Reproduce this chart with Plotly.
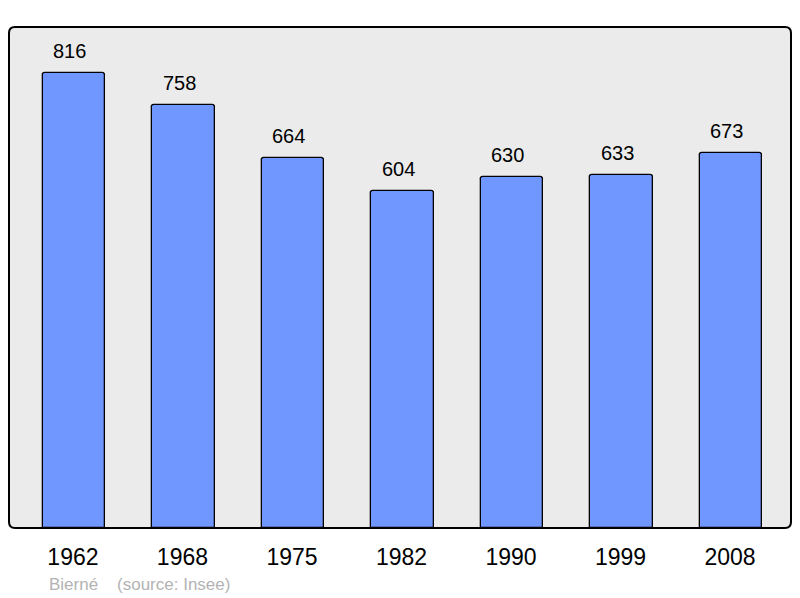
import plotly.graph_objects as go

years = ["1962", "1968", "1975", "1982", "1990", "1999", "2008"]
population = [816, 758, 664, 604, 630, 633, 673]
source_text = "Bierné    (source: Insee)"

xpos = list(range(len(years)))

# The page body has an 8px margin; the figure is laid out in its own pixels.
FW, FH = 792, 590
PL, PR, PT, PB = 1, 783, 19, 520  # plot area in figure pixels

fig = go.Figure()
fig.add_trace(go.Bar(
    x=xpos, y=population, width=0.57,
    marker=dict(color="#7096FF", line=dict(color="#000000", width=1.3), cornerradius=3),
    hoverinfo="skip",
))

for xi, v in zip(xpos, population):
    fig.add_annotation(x=xi, y=v, text=str(v), showarrow=False, yanchor="bottom",
                       yshift=9, xshift=-4, font=dict(size=20, color="#000000"))

def to_paper(xp, yp):
    return ((xp - PL) / (PR - PL), (PB - yp) / (PB - PT))

sx, sy = to_paper(39, 576)
fig.add_annotation(xref="paper", yref="paper", x=sx, y=sy,
                   xanchor="left", yanchor="middle", showarrow=False,
                   text=source_text, font=dict(size=17, color="#b3b3b3"))

# rounded border
x0, y0, x1, y1, r = PL, PT, PR, PB, 6
pts = [(x0+r,y0),(x1-r,y0),(x1,y0),(x1,y0+r),(x1,y1-r),(x1,y1),(x1-r,y1),(x0+r,y1),(x0,y1),(x0,y1-r),(x0,y0+r),(x0,y0),(x0+r,y0)]
P = [to_paper(*p) for p in pts]
f = lambda p: f"{p[0]:.5f},{p[1]:.5f}"
path = (f"M {f(P[0])} L {f(P[1])} Q {f(P[2])} {f(P[3])} L {f(P[4])} Q {f(P[5])} {f(P[6])} "
        f"L {f(P[7])} Q {f(P[8])} {f(P[9])} L {f(P[10])} Q {f(P[11])} {f(P[12])} Z")
fig.add_shape(type="path", xref="paper", yref="paper", path=path,
              line=dict(color="#000000", width=2), fillcolor="#ebebeb", layer="below")

fig.update_layout(
    width=FW, height=FH,
    margin=dict(l=PL, r=FW - PR, t=PT, b=FH - PB, pad=0),
    paper_bgcolor="#ffffff", plot_bgcolor="rgba(0,0,0,0)",
    showlegend=False,
    font=dict(family="Liberation Sans, Arial, sans-serif"),
    xaxis=dict(range=[-0.593, 6.548], tickvals=xpos, ticktext=years, showgrid=False,
               zeroline=False, showline=False, ticks="", ticklabelstandoff=13,
               ticklabelshift=-1,
               tickfont=dict(size=23, color="#000000"), fixedrange=True),
    yaxis=dict(range=[0, 898.5], showgrid=False, zeroline=False, showline=False,
               showticklabels=False, ticks="", fixedrange=True),
    bargap=0,
)

fig.write_html("out.html")
